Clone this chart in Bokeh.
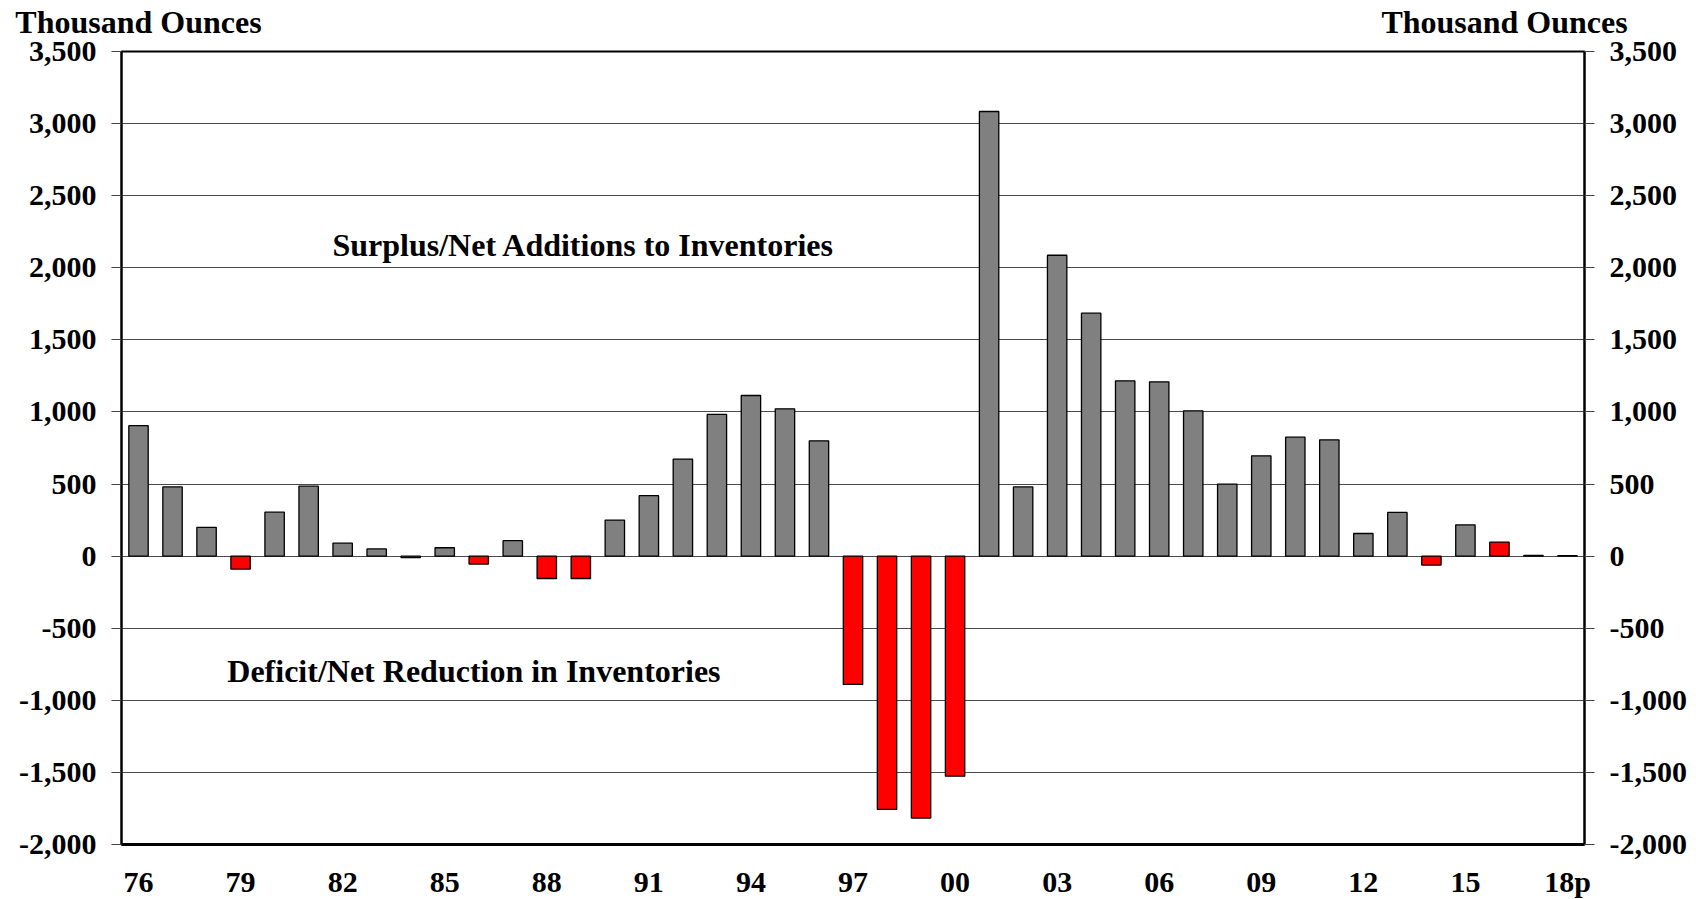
from bokeh.plotting import figure
from bokeh.models import (LinearAxis, Label, FixedTicker, SingleIntervalTicker,
                          NumeralTickFormatter, Range1d, ColumnDataSource)
from bokeh.embed import file_html
from bokeh.resources import INLINE

# ---- data (thousand ounces) ----
years = list(range(1976, 2019))
balance = [905, 480, 200, -90, 305, 485, 90, 50, -10, 58,
           -55, 107, -155, -155, 250, 419, 673, 983, 1114, 1022,
           800, -890, -1757, -1817, -1526, 3084, 480, 2087, 1685, 1216,
           1209, 1008, 500, 696, 825, 807, 157, 303, -62, 217,
           97, 5, 3]
red_years = [1979, 1986, 1988, 1989, 1997, 1998, 1999, 2000, 2014, 2016]
tick_years = [1976, 1979, 1982, 1985, 1988, 1991, 1994, 1997, 2000,
              2003, 2006, 2009, 2012, 2015, 2018]
tick_labels = ["76", "79", "82", "85", "88", "91", "94", "97", "00",
               "03", "06", "09", "12", "15", "18p"]
y_title = "Thousand Ounces"
note_up = "Surplus/Net Additions to Inventories"
note_down = "Deficit/Net Reduction in Inventories"

GRAY = "#808080"
RED = "#FF0000"
FONT = "Liberation Serif"

colors = [RED if y in red_years else GRAY for y in years]
src = ColumnDataSource(dict(x=years, top=balance, color=colors))

p = figure(frame_width=1463, frame_height=793, output_backend="svg", toolbar_location=None,
           x_range=Range1d(1975.5, 2018.5), y_range=Range1d(-2000, 3500),
           min_border_left=121, min_border_right=112, min_border_top=50,
           min_border_bottom=56)
p.background_fill_color = "white"
p.border_fill_color = "white"
p.outline_line_color = "black"
p.outline_line_width = 2

p.vbar(x="x", top="top", bottom=0, width=0.57, source=src,
       fill_color="color", line_color="black", line_width=1.3)

# y axes (left and right)
p.yaxis[0].ticker = SingleIntervalTicker(interval=500)
p.yaxis[0].formatter = NumeralTickFormatter(format="0,0")
right = LinearAxis(ticker=SingleIntervalTicker(interval=500),
                   formatter=NumeralTickFormatter(format="0,0"))
p.add_layout(right, "right")

for ax in [p.yaxis[0], right]:
    ax.axis_line_color = "black"
    ax.axis_line_width = 2
    ax.major_tick_out = 10
    ax.major_tick_in = 0
    ax.major_tick_line_color = "#444444"
    ax.minor_tick_line_color = None
    ax.major_label_text_font = FONT
    ax.major_label_text_font_style = "bold"
    ax.major_label_text_font_size = "30px"
    ax.major_label_text_color = "black"
p.yaxis[0].major_label_standoff = 15
right.major_label_standoff = 15

# x axis
xa = p.xaxis[0]
xa.ticker = FixedTicker(ticks=tick_years)
xa.major_label_overrides = {y: l for y, l in zip(tick_years, tick_labels)}
xa.axis_line_color = "black"
xa.axis_line_width = 3
xa.major_tick_line_color = None
xa.minor_tick_line_color = None
xa.major_label_text_font = FONT
xa.major_label_text_font_style = "bold"
xa.major_label_text_font_size = "30px"
xa.major_label_text_color = "black"
xa.major_label_standoff = 14

# unit titles above both value axes (carried by an unlined top axis)
title_pos = [1976.0, 2016.15]
top = LinearAxis(ticker=FixedTicker(ticks=title_pos),
                 major_label_overrides={t: y_title for t in title_pos})
top.axis_line_color = None
top.major_tick_line_color = None
top.minor_tick_line_color = None
top.major_tick_out = 0
top.major_tick_in = 0
top.major_label_standoff = 12
top.major_label_text_font = FONT
top.major_label_text_font_style = "bold"
top.major_label_text_font_size = "32px"
top.major_label_text_color = "black"
p.add_layout(top, "above")

p.xgrid.grid_line_color = None
p.ygrid.ticker = SingleIntervalTicker(interval=500)
p.ygrid.grid_line_color = "#4a4a4a"
p.ygrid.grid_line_width = 1

def lab(x, y, text):
    p.add_layout(Label(x=x, y=y, text=text, text_font=FONT, text_font_style="bold",
                       text_font_size="32px", text_color="black", text_align="left",
                       text_baseline="alphabetic"))

lab(1981.7, 2161, note_up)
lab(1978.61, -795, note_down)

open("out.html", "w").write(file_html(p, INLINE))
